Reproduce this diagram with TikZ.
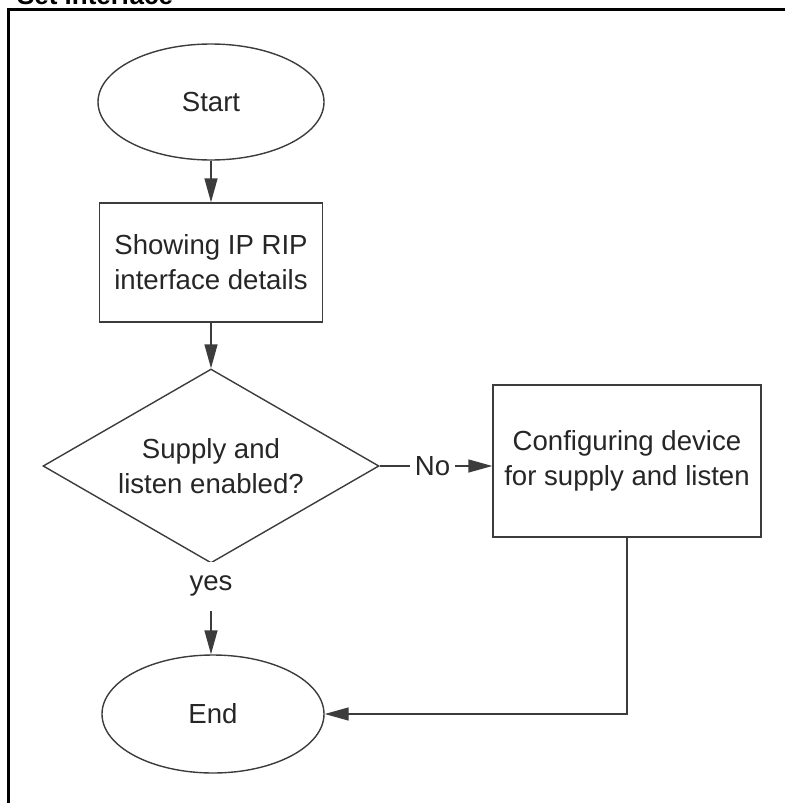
\documentclass[tikz,border=0pt]{standalone}
\usepackage{fontspec}
\setmainfont{Liberation Sans}
\usetikzlibrary{arrows.meta,shapes.geometric}
\definecolor{ink}{RGB}{60,60,60}

\begin{document}
\begin{tikzpicture}[x=0.5pt,y=-0.5pt,>={Triangle[length=12pt,width=6.5pt]},
      font=\fontsize{13.8}{17.5}\selectfont,text=black!85,
      line/.style={draw=ink,line width=0.7pt},
      term/.style={ellipse,line,inner sep=0pt},
      box/.style={rectangle,line,inner sep=0pt,align=center},
      decide/.style={diamond,line,aspect=1.73,inner sep=0pt,align=center}]
  \useasboundingbox (0,0) rectangle (785,803);
  \node[anchor=base west,text=black,font=\fontsize{13}{15}\selectfont\bfseries] (title) at (10,4) {Set interface};
  \draw[line width=1.5pt] (8.7,803) -- (8.7,9) -- (785,9);
  \node[term,minimum width=113pt,minimum height=58pt] (start) at (211,102) {Start};
  \node[box,minimum width=111.5pt,minimum height=59.5pt] (show) at (211,262.5) {Showing IP RIP\\interface details};
  \node[decide,minimum width=168pt,minimum height=97pt] (check) at (211,466) {Supply and\\listen enabled?};
  \node[box,minimum width=134pt,minimum height=76pt] (cfg) at (627,461) {Configuring device\\for supply and listen};
  \node[term,minimum width=111pt,minimum height=59pt] (done) at (213,714) {End};
  \draw[line,->] (start) -- (show);
  \draw[line,->] (show) -- (check);
  \draw[line,->] (check.east) -- (check.east -| cfg.west) node[pos=0.47,fill=white,inner sep=2.5pt] {No};
  \draw[line,->] (check.south) -- (check.south |- done.north) node[pos=0.25,fill=white,inner xsep=4pt,inner ysep=7pt] {yes};
  \draw[line,->] (cfg.south) |- (done.east);
\end{tikzpicture}
\end{document}
